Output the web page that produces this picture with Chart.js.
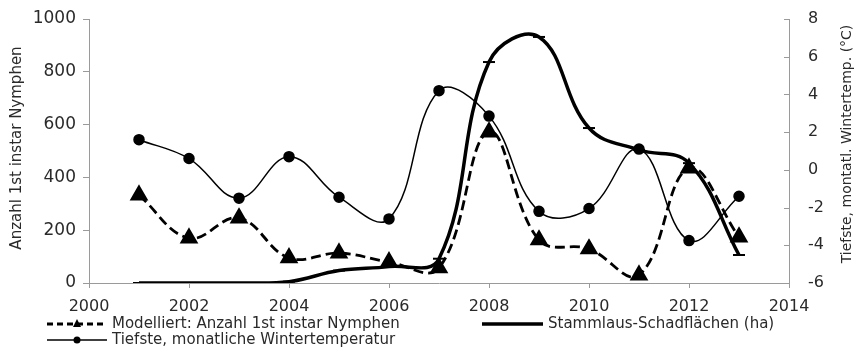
<!DOCTYPE html>
<html>
<head>
<meta charset="utf-8">
<script src="https://cdn.jsdelivr.net/npm/chart.js@4"></script>
<style>
  html, body { margin: 0; padding: 0; background: #fff; }
  #wrap { width: 861px; height: 347px; overflow: hidden; }
</style>
</head>
<body>
<div id="wrap"><canvas id="chart" width="861" height="347"></canvas></div>
<script>
// Jahre und Werte
const years = [2001, 2002, 2003, 2004, 2005, 2006, 2007, 2008, 2009, 2010, 2011, 2012, 2013];
const nymphen = [333, 170, 246, 95, 113, 80, 57, 572, 163, 129, 30, 435, 174];
const schadflaechen = [0, 0, 0, 5, 47, 62, 92, 837, 932, 587, 504, 454, 106];
const wintertemp = [1.6, 0.6, -1.5, 0.7, -1.45, -2.6, 4.2, 2.85, -2.2, -2.05, 1.1, -3.75, -1.4];

const xTicks = [2000, 2002, 2004, 2006, 2008, 2010, 2012, 2014];
const leftTitle = "Anzahl 1st instar Nymphen";
const rightTitle = "Tiefste, montatl. Wintertemp. (°C)";

const toPoints = (vals) => vals.map((v, i) => ({ x: years[i], y: v }));

const FONT = "'DejaVu Sans', sans-serif";
const axisColor = "#9a9a9a";
const textColor = "#2a2a2a";

// Legende unten + Achsentitel, selbst gezeichnet (Excel-Stil)
const legendPlugin = {
  id: "excelLegend",
  afterDraw(chart) {
    const ctx = chart.ctx;
    const items = [
      { ds: 0, x: 47, y: 324, len: 60 },
      { ds: 1, x: 482, y: 324, len: 61 },
      { ds: 2, x: 47, y: 340, len: 60 },
    ];
    ctx.save();
    items.forEach((it) => {
      const ds = chart.data.datasets[it.ds];
      ctx.strokeStyle = ds.borderColor;
      ctx.lineWidth = ds.borderWidth;
      ctx.setLineDash(ds.borderDash ? [6, 4] : []);
      ctx.beginPath();
      ctx.moveTo(it.x, it.y);
      ctx.lineTo(it.x + it.len, it.y);
      ctx.stroke();
      ctx.setLineDash([]);
      const cx = it.x + it.len / 2;
      ctx.fillStyle = "#000";
      if (ds.pointStyle === "triangle") {
        ctx.beginPath();
        ctx.moveTo(cx, it.y - 5);
        ctx.lineTo(cx + 4, it.y + 3);
        ctx.lineTo(cx - 4, it.y + 3);
        ctx.closePath();
        ctx.fill();
      } else if (ds.pointStyle === "circle") {
        ctx.beginPath();
        ctx.arc(cx, it.y, 3.5, 0, Math.PI * 2);
        ctx.fill();
      }
      ctx.font = "15px " + FONT;
      ctx.fillStyle = textColor;
      ctx.textBaseline = "middle";
      ctx.textAlign = "left";
      ctx.fillText(ds.label, it.x + it.len + 5, it.y);
    });

    // Achsentitel (beide von unten nach oben gelesen)
    ctx.font = "15px " + FONT;
    ctx.textAlign = "center";
    ctx.textBaseline = "middle";
    ctx.save();
    ctx.translate(17, 148);
    ctx.rotate(-Math.PI / 2);
    ctx.fillText(leftTitle, 0, 0);
    ctx.restore();
    ctx.font = "14px " + FONT;
    ctx.save();
    ctx.translate(847, 144);
    ctx.rotate(-Math.PI / 2);
    ctx.fillText(rightTitle, 0, 0);
    ctx.restore();

    // Teilstriche der rechten Achse nach innen
    const r = chart.scales.y1;
    ctx.strokeStyle = axisColor;
    ctx.lineWidth = 1;
    r.ticks.forEach((t) => {
      const py = Math.round(r.getPixelForValue(t.value)) + 0.5;
      ctx.beginPath();
      ctx.moveTo(r.left - 5, py);
      ctx.lineTo(r.left, py);
      ctx.stroke();
    });
    ctx.restore();
  },
};

new Chart(document.getElementById("chart"), {
  type: "line",
  data: {
    datasets: [
      {
        label: "Modelliert: Anzahl 1st instar Nymphen",
        data: toPoints(nymphen),
        yAxisID: "y",
        borderColor: "#000",
        borderWidth: 2.8,
        borderDash: [10, 5],
        pointStyle: "triangle",
        pointRadius: 8,
        pointBackgroundColor: "#000",
        pointBorderColor: "#000",
        tension: 0.4,
      },
      {
        label: "Stammlaus-Schadflächen (ha)",
        data: toPoints(schadflaechen),
        yAxisID: "y",
        borderColor: "#000",
        borderWidth: 3.5,
        pointStyle: "line",
        pointRadius: 6,
        pointBorderWidth: 2,
        pointBorderColor: "#000",
        tension: 0.4,
      },
      {
        label: "Tiefste, monatliche Wintertemperatur",
        data: toPoints(wintertemp),
        yAxisID: "y1",
        borderColor: "#000",
        borderWidth: 1.5,
        pointStyle: "circle",
        pointRadius: 5,
        pointBackgroundColor: "#000",
        pointBorderColor: "#000",
        tension: 0.4,
      },
    ],
  },
  options: {
    responsive: false,
    animation: false,
    devicePixelRatio: 1,
    layout: { padding: { top: 19, left: 0, right: 0, bottom: 0 } },
    elements: { line: { capBezierPoints: false } },
    plugins: { legend: { display: false }, tooltip: { enabled: false } },
    scales: {
      x: {
        type: "linear",
        min: 2000,
        max: 2014,
        afterBuildTicks: (s) => { s.ticks = xTicks.map((v) => ({ value: v })); },
        afterFit: (s) => { s.height = 64; },
        grid: { drawOnChartArea: false, tickLength: 5, color: axisColor },
        border: { color: axisColor },
        ticks: {
          color: textColor, font: { family: FONT, size: 16 }, padding: 9, maxRotation: 0,
          callback: (v) => String(v),
        },
      },
      y: {
        position: "left",
        min: 0,
        max: 1000,
        afterFit: (s) => { s.width = 89; },
        grid: { drawOnChartArea: false, tickLength: 6, color: axisColor },
        border: { color: axisColor },
        ticks: {
          stepSize: 200, color: textColor, font: { family: FONT, size: 17 }, padding: 7,
          callback: (v) => String(v),
        },
      },
      y1: {
        position: "right",
        min: -6,
        max: 8,
        afterFit: (s) => { s.width = 72; },
        grid: { drawOnChartArea: false, tickLength: 16, tickColor: "rgba(0,0,0,0)", color: axisColor },
        border: { color: axisColor },
        ticks: { stepSize: 2, color: textColor, font: { family: FONT, size: 16 }, padding: 3 },
      },
    },
  },
  plugins: [legendPlugin],
});
</script>
</body>
</html>
